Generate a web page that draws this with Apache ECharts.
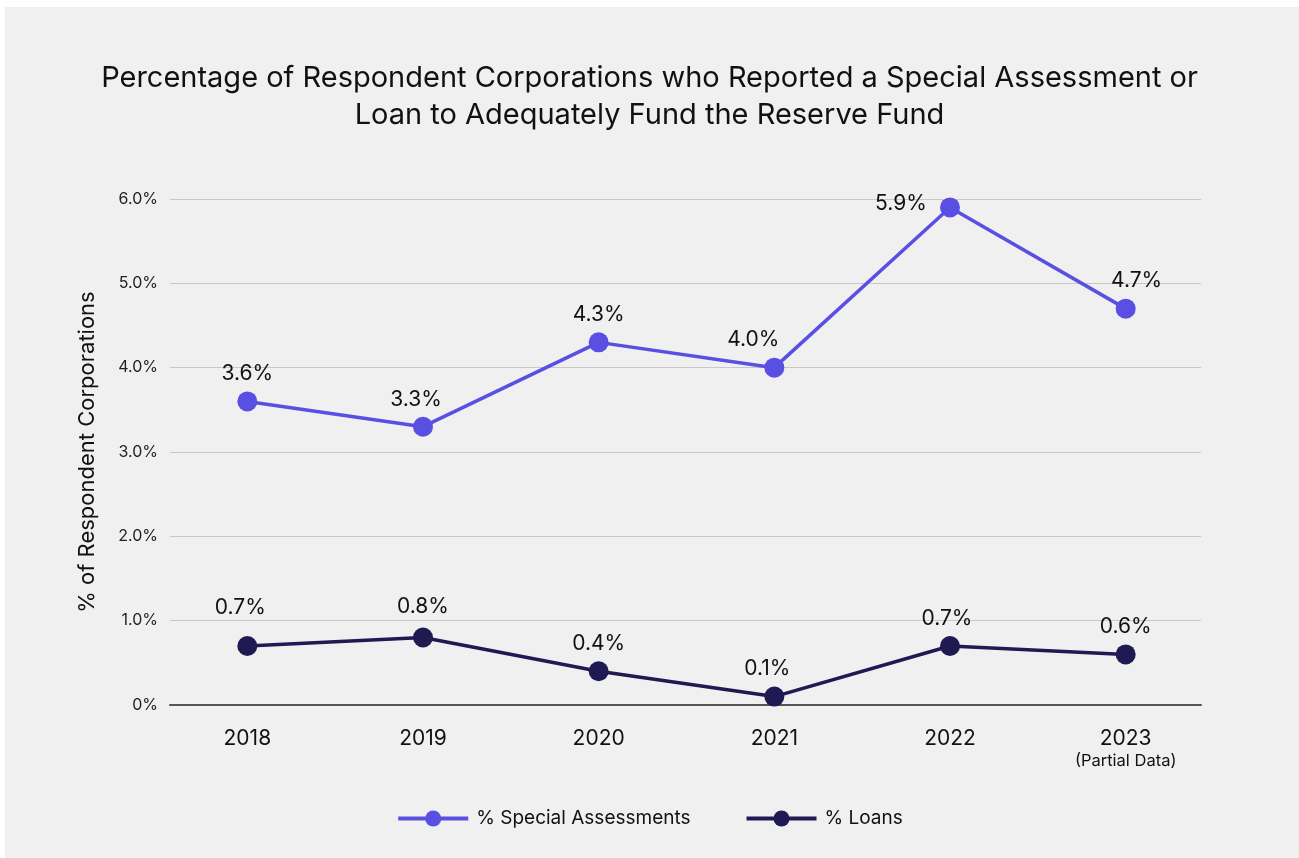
<!DOCTYPE html>
<html>
<head>
<meta charset="utf-8">
<script src="https://cdn.jsdelivr.net/npm/echarts@6/dist/echarts.min.js"></script>
<style>
html,body{margin:0;padding:0;background:#ffffff;}
#chart{width:1299px;height:858px;}
</style>
</head>
<body>
<div id="chart"></div>
<script>
const years = ['2018', '2019', '2020', '2021', '2022', '2023'];
const yearNotes = ['', '', '', '', '', '(Partial Data)'];
const specialAssessments = [3.6, 3.3, 4.3, 4.0, 5.9, 4.7];
const loans = [0.7, 0.8, 0.4, 0.1, 0.7, 0.6];
const seriesNames = ['% Special Assessments', '% Loans'];
const yTicks = [0, 1, 2, 3, 4, 5, 6];

const FONT = 'Inter, "Noto Sans", sans-serif';
const chart = echarts.init(document.getElementById('chart'));

const fmtPct = v => (v === 0 ? '0%' : v.toFixed(1) + '%');

// label nudges (styling only) to mirror the reference placement
const specialLabelNudge = { 1: [-7, 0], 3: [-21, 0], 4: [-49, 24], 5: [11, 0] };
const loansLabelNudge = { 0: [-7, -11], 1: [0, -3], 3: [-7, 0], 4: [-3, 0] };

function withNudges(values, nudges) {
  return values.map((v, i) => nudges[i] ? { value: v, label: { offset: nudges[i] } } : v);
}

const labelStyle = {
  show: true, position: 'top', distance: 7,
  formatter: p => p.value.toFixed(1) + '%',
  fontFamily: FONT, fontSize: 21, color: '#111111'
};

chart.setOption({
  backgroundColor: '#ffffff',
  animation: false,
  graphic: [{
    type: 'rect', left: 5, top: 7, z: -10,
    shape: { width: 1294, height: 851 },
    style: { fill: '#f0f0f0' }
  }],
  title: {
    text: 'Percentage of Respondent Corporations who Reported a Special Assessment or\nLoan to Adequately Fund the Reserve Fund',
    left: 'center', top: 55,
    textStyle: { fontFamily: FONT, fontSize: 29, fontWeight: 'normal', color: '#111111', lineHeight: 37 }
  },
  legend: {
    top: 804, left: 'center',
    itemWidth: 70, itemHeight: 20, itemGap: 54,
    lineStyle: { width: 4 },
    textStyle: { fontFamily: FONT, fontSize: 19, color: '#111111', padding: [0, 0, 0, 3] },
    data: seriesNames
  },
  grid: [
    { left: 170, right: 98, top: 199, bottom: 153 },
    { left: 159.5, right: 85.5, top: 199, bottom: 153 }
  ],
  xAxis: [
    {
      gridIndex: 0, type: 'value', min: 0, max: 1,
      axisLine: { show: true, onZero: false, lineStyle: { color: '#555555', width: 2 } },
      axisTick: { show: false }, axisLabel: { show: false }, splitLine: { show: false }
    },
    {
      gridIndex: 1, type: 'category', data: years, boundaryGap: true,
      axisLine: { show: false }, axisTick: { show: false },
      axisLabel: {
        interval: 0, margin: 22, color: '#111111', fontFamily: FONT, fontSize: 21, lineHeight: 24,
        formatter: (v, i) => yearNotes[i] ? v + '\n{note|' + yearNotes[i] + '}' : v,
        rich: { note: { fontFamily: FONT, fontSize: 16.5, color: '#111111', lineHeight: 20 } }
      }
    }
  ],
  yAxis: [
    {
      gridIndex: 0, type: 'value', min: 0, max: 6, interval: 1,
      name: '% of Respondent Corporations', nameLocation: 'middle', nameGap: 72,
      nameTextStyle: { fontFamily: FONT, fontSize: 22, color: '#111111' },
      axisLine: { show: false }, axisTick: { show: false },
      axisLabel: { formatter: fmtPct, color: '#222222', fontFamily: FONT, fontSize: 16, margin: 12 },
      splitLine: { lineStyle: { color: '#c8c8c8', width: 1 } }
    },
    {
      gridIndex: 1, type: 'value', min: 0, max: 6, interval: 1, show: false,
      splitLine: { show: false }
    }
  ],
  series: [
    {
      name: seriesNames[0], type: 'line', xAxisIndex: 1, yAxisIndex: 1,
      data: withNudges(specialAssessments, specialLabelNudge), symbol: 'circle', symbolSize: 20,
      lineStyle: { color: '#5a4fe3', width: 3.5 }, itemStyle: { color: '#5a4fe3' },
      label: labelStyle
    },
    {
      name: seriesNames[1], type: 'line', xAxisIndex: 1, yAxisIndex: 1,
      data: withNudges(loans, loansLabelNudge), symbol: 'circle', symbolSize: 20,
      lineStyle: { color: '#1f1a52', width: 3.5 }, itemStyle: { color: '#1f1a52' },
      label: labelStyle
    }
  ]
});
</script>
</body>
</html>
